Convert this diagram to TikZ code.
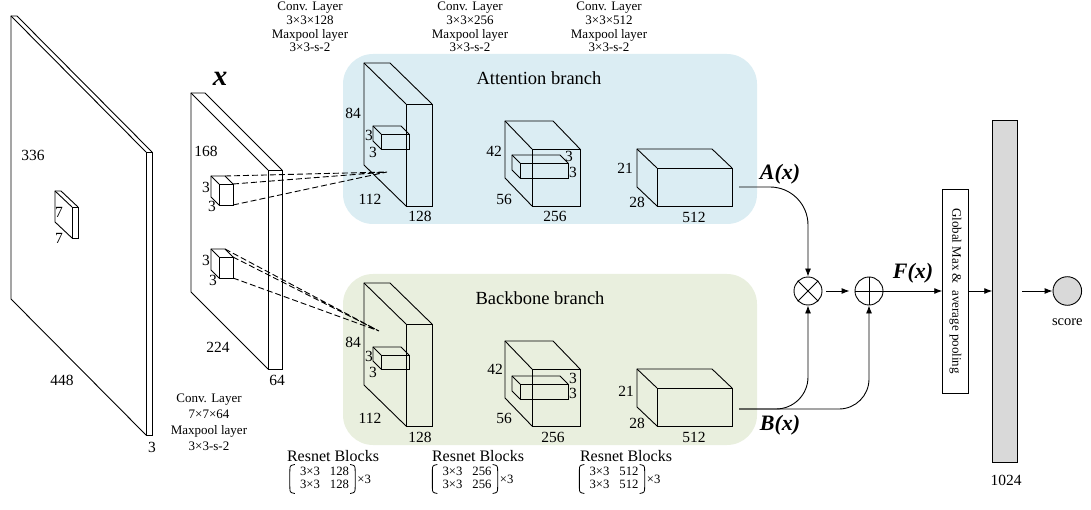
\documentclass[tikz,border=0pt]{standalone}
\usepackage{fontspec}
\setmainfont{Liberation Serif}
\usetikzlibrary{arrows.meta}
\definecolor{attbg}{RGB}{219,237,243}
\definecolor{bbbg}{RGB}{233,239,222}
\definecolor{bargray}{RGB}{217,217,217}
\newcommand{\mycuboid}[6]{%
  \draw[wire] (#1,#2) rectangle (#3,#4);
  \draw[wire] (#1,#4) -- ++(#5,#6) -- ++(0,#2-#4) -- ++(#3-#1,0) -- (#3,#2);
  \draw[wire] (#1,#2) -- ++(#5,#6);
}
% brackets: #1 = matrix node name
\newcommand{\mybrackets}[1]{%
  \draw[brk] ([xshift=-5pt,yshift=1pt]#1.north west) .. controls ([xshift=-10pt,yshift=0pt]#1.north west) .. ([xshift=-10pt,yshift=-6pt]#1.north west)
    -- ([xshift=-10pt,yshift=6pt]#1.south west) .. controls ([xshift=-10pt,yshift=0pt]#1.south west) .. ([xshift=-5pt,yshift=-1pt]#1.south west);
  \draw[brk] ([xshift=1pt,yshift=1pt]#1.north east) .. controls ([xshift=6pt,yshift=0pt]#1.north east) .. ([xshift=6pt,yshift=-6pt]#1.north east)
    -- ([xshift=6pt,yshift=6pt]#1.south east) .. controls ([xshift=6pt,yshift=0pt]#1.south east) .. ([xshift=1pt,yshift=-1pt]#1.south east);
}
\begin{document}
\begin{tikzpicture}[x=1pt,y=-1pt,
  wire/.style={line width=0.9pt, line join=miter},
  brk/.style={line width=0.8pt},
  num/.style={font=\fontsize{15.5}{17}\selectfont, inner sep=0pt},
  conv/.style={font=\fontsize{13}{13.7}\selectfont, align=center, inner sep=0pt},
  convb/.style={font=\fontsize{13}{16}\selectfont, align=center, inner sep=0pt},
  branch/.style={font=\fontsize{18.5}{20}\selectfont, inner sep=0pt},
  fn/.style={font=\fontsize{22}{24}\selectfont\bfseries\itshape, inner sep=0pt},
  rblk/.style={font=\fontsize{16}{18}\selectfont, inner sep=0pt},
  rmat/.style={font=\fontsize{12.7}{13.3}\selectfont, inner sep=0pt},
  dsh/.style={line width=0.9pt, dash pattern=on 6pt off 3pt},
  arr/.style={line width=0.9pt, -{Latex[length=8pt,width=6pt]}},
  opc/.style={circle, draw, line width=0.9pt, minimum size=28pt, inner sep=0pt}]
\useasboundingbox (0,0) rectangle (1091,510);

% backgrounds
\fill[attbg, rounded corners=30pt] (343,54) rectangle (757,224);
\fill[bbbg, rounded corners=30pt] (343,274) rectangle (757,445);
\node[branch] (attlbl) at (539,78) {Attention branch};
\node[branch] (bblbl) at (540,298) {Backbone branch};

% input slab
\mycuboid{146}{152}{152}{435}{-135}{-136}
\mycuboid{72}{207}{78}{238}{-17}{-16}
\node[num] (l336) at (33,155) {336};
\node[num] (l448) at (62,380) {448};
\node[num] (l3a) at (152,447) {3};
\node[num] (l7a) at (59,212) {7};
\node[num] (l7b) at (59,238) {7};

% x slab
\mycuboid{268}{170}{282}{369}{-77}{-77}
\mycuboid{219}{184}{233}{205}{-8}{-8}
\mycuboid{219}{257}{233}{278}{-8}{-8}
\node[font=\fontsize{29}{30}\selectfont\bfseries\itshape, inner sep=0pt] (xl) at (220,79) {x};
\node[num] (l168) at (206,151) {168};
\node[num] (l224) at (218,347) {224};
\node[num] (l64) at (277,380) {64};
\node[num] (c1a) at (206,187) {3};
\node[num] (c1b) at (212,206) {3};
\node[num] (c2a) at (206,260) {3};
\node[num] (c2b) at (213,280) {3};

% attention boxes
\mycuboid{406}{104}{432}{206}{-42}{-41}
\mycuboid{381}{134}{409}{149}{-8}{-8}
\mycuboid{532}{149}{580}{206}{-27}{-28}
\mycuboid{520}{163}{568}{178}{-8}{-8}
\mycuboid{657}{168}{732}{206}{-20}{-19}
\node[num] (a84) at (353,113) {84};
\node[num] (a3a) at (369,135) {3};
\node[num] (a3b) at (373,152) {3};
\node[num] (a112) at (370,199) {112};
\node[num] (a128) at (420,216) {128};
\node[num] (a42) at (494,151) {42};
\node[num] (a56) at (504,199) {56};
\node[num] (a256) at (555,216) {256};
\node[num] (a3c) at (569,156) {3};
\node[num] (a3d) at (573,172) {3};
\node[num] (a21) at (625,168) {21};
\node[num] (a28) at (637,202) {28};
\node[num] (a512) at (694,217) {512};

% backbone boxes
\mycuboid{406}{324}{432}{426}{-42}{-41}
\mycuboid{381}{355}{409}{369}{-8}{-8}
\mycuboid{532}{369}{580}{426}{-27}{-28}
\mycuboid{520}{384}{568}{399}{-8}{-8}
\mycuboid{657}{388}{732}{426}{-20}{-19}
\node[num] (b84) at (353,342) {84};
\node[num] (b3a) at (369,356) {3};
\node[num] (b3b) at (373,372) {3};
\node[num] (b112) at (370,418) {112};
\node[num] (b128) at (420,437) {128};
\node[num] (b42) at (495,369) {42};
\node[num] (b56) at (504,418) {56};
\node[num] (b256) at (553,437) {256};
\node[num] (b3c) at (573,378) {3};
\node[num] (b3d) at (573,393) {3};
\node[num] (b21) at (626,391) {21};
\node[num] (b28) at (637,423) {28};
\node[num] (b512) at (694,437) {512};

% dashed projections
\coordinate (ua) at (225,176);
\coordinate (ub) at (233,184);
\coordinate (uc) at (233,205);
\coordinate (ut) at (387,172);
\coordinate (la) at (225,249);
\coordinate (lb) at (233,257);
\coordinate (lc) at (233,278);
\coordinate (lt) at (379,331);
\draw[dsh] (ua) -- (ut) (ub) -- (ut) (uc) -- (ut);
\draw[dsh] (la) -- (lt) (lb) -- (lt) (lc) -- (lt);

% top labels
\node[conv] (cv1) at (310,27) {Conv. Layer\\3×3×128\\Maxpool layer\\3×3-s-2};
\node[conv] (cv2) at (470,27) {Conv. Layer\\3×3×256\\Maxpool layer\\3×3-s-2};
\node[conv] (cv3) at (609,27) {Conv. Layer\\3×3×512\\Maxpool layer\\3×3-s-2};
\node[convb] (cv0) at (209,422) {Conv. Layer\\7×7×64\\Maxpool layer\\3×3-s-2};

% resnet blocks
\node[rblk] (rb1) at (333,456) {Resnet Blocks};
\node[rblk] (rb2) at (478,456) {Resnet Blocks};
\node[rblk] (rb3) at (626,456) {Resnet Blocks};
\node[rmat] (rm1) at (324.5,479) {\begin{tabular}{@{}c@{\hspace{10pt}}c@{}}3×3&128\\3×3&128\end{tabular}};
\node[rmat] (rm2) at (467,479) {\begin{tabular}{@{}c@{\hspace{10pt}}c@{}}3×3&256\\3×3&256\end{tabular}};
\node[rmat] (rm3) at (614,479) {\begin{tabular}{@{}c@{\hspace{10pt}}c@{}}3×3&512\\3×3&512\end{tabular}};
\mybrackets{rm1}
\mybrackets{rm2}
\mybrackets{rm3}
\node[rmat, anchor=west] (rx1) at ([xshift=8pt]rm1.east) {×3};
\node[rmat, anchor=west] (rx2) at ([xshift=8pt]rm2.east) {×3};
\node[rmat, anchor=west] (rx3) at ([xshift=8pt]rm3.east) {×3};

% fusion
\coordinate (aout) at (739,187);
\coordinate (bout) at (739,409);
\node[opc] (ot) at (808,291) {};
\draw[line width=0.9pt] (ot.north west) -- (ot.south east) (ot.north east) -- (ot.south west);
\node[opc] (op) at (869,291) {};
\draw[line width=0.9pt] (op.north) -- (op.south) (op.west) -- (op.east);
\node[fn] (ax) at (780,174) {A(x)};
\node[fn] (bx) at (780,425) {B(x)};
\node[fn] (fx) at (913,273) {F(x)};
\draw[arr, rounded corners=38pt] (aout) -- (ot.north |- aout) -- (ot.north);
\draw[arr, rounded corners=32pt] (bout) -- (ot.south |- bout) -- (ot.south);
\draw[arr, rounded corners=30pt] (bout) -- (op.south |- bout) -- (op.south);
\draw[arr, shorten <=4pt, shorten >=5pt] (ot.east) -- (op.west);

\node[draw, line width=0.9pt, minimum width=25.6pt, minimum height=204pt, inner sep=0pt] (gm) at (955.5,291) {};
\node[rotate=-90, font=\fontsize{13}{14}\selectfont, inner sep=0pt] (gmt) at (gm.center) {Global Max \&~~average pooling};
\draw[arr] (op.east) -- (gm.west);

\node[draw, fill=bargray, line width=0.9pt, minimum width=25pt, minimum height=342pt, inner sep=0pt] (bar) at (1005.2,291) {};
\node[num] (l1024) at (1006,480) {1024};
\draw[arr] (gm.east) -- (bar.west);

\node[opc, fill=bargray, minimum size=28.6pt] (sc) at (1067.3,291) {};
\node[font=\fontsize{14.5}{16}\selectfont, inner sep=0pt] (scl) at (1067.3,322) {score};
\draw[arr, shorten <=4pt] (bar.east) -- (sc.west);
\end{tikzpicture}
\end{document}
